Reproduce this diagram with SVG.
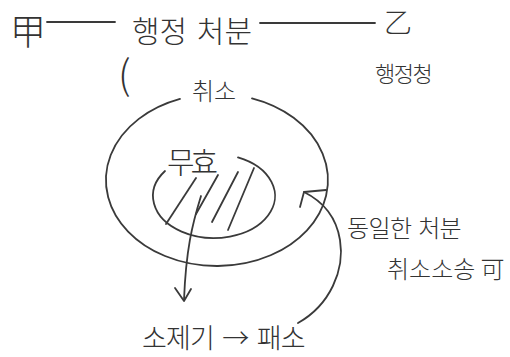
<svg xmlns="http://www.w3.org/2000/svg" width="510" height="357" viewBox="0 0 510 357">
<style>
  .t { font-family: "Noto Sans CJK KR", "Noto Sans", sans-serif; fill: #333; font-weight: 300; }
  .s { fill: none; stroke: #3a3a3a; stroke-width: 1.8; stroke-linecap: round; stroke-linejoin: round; }
</style>
<rect width="510" height="357" fill="#fff"/>
<g id="gap"><text class="t" x="10" y="45" font-size="36">甲</text></g>
<g id="disposition"><text class="t" x="132" y="42" font-size="30" letter-spacing="0" word-spacing="3">행정 처분</text></g>
<g id="eul"><text class="t" x="384" y="33" font-size="28">乙</text></g>
<g id="agency"><text class="t" x="375" y="82" font-size="22" letter-spacing="-1.5">행정청</text></g>
<g id="paren"><text class="t" x="118" y="89" font-size="40" font-family="Liberation Sans, sans-serif" font-weight="normal">(</text></g>
<g id="cancel">
  <path class="s" d="M252,98.4 A111,86 0 1 1 180,98.9"/>
  <text class="t" x="192" y="100" font-size="24" letter-spacing="0">취소</text>
</g>
<g id="void">
  <path class="s" d="M238,157.4 A61,42 0 1 1 165,171"/>
  <g class="s">
    <line x1="196" y1="178" x2="166" y2="224"/>
    <line x1="218" y1="175" x2="196" y2="214"/>
    <line x1="238" y1="172" x2="212" y2="222"/>
    <line x1="254" y1="168" x2="228" y2="230"/>
  </g>
  <text class="t" x="167" y="173" font-size="30" letter-spacing="-4">무효</text>
</g>
<g id="same">
  <text class="t" x="347" y="237" font-size="24" letter-spacing="-0.6" word-spacing="2">동일한 처분</text>
  <text class="t" x="387" y="278" font-size="24">취소소송 可</text>
</g>
<g id="suit"><text class="t" x="142" y="348" font-size="27" letter-spacing="-0.8" word-spacing="3">소제기 → 패소</text></g>
<g id="connectors" class="s">
  <line x1="47" y1="22" x2="115" y2="22"/>
  <line x1="260" y1="23" x2="375" y2="23"/>
  <path d="M201,196 C192,225 186,250 184,300"/>
  <path d="M175,288 L184,301 L191,289"/>
  <path d="M298,323 C330,305 345,270 340,240 C336,215 320,200 304,192"/>
  <path d="M300,207 L304,192 L326,190"/>
</g>
</svg>
